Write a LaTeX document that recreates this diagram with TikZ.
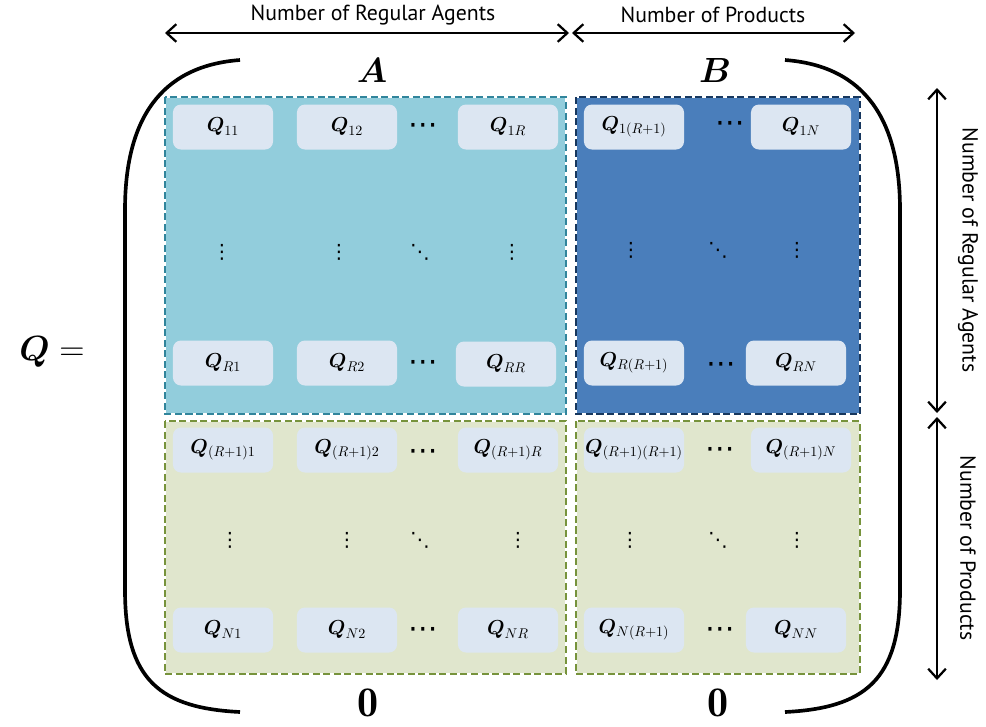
\documentclass[tikz,border=0pt]{standalone}
\usepackage{amsmath, amssymb, bm}
\usepackage{fontspec}
\newfontfamily\labelfont{PT Sans}
\newfontfamily\dotfont{DejaVu Sans}
\usetikzlibrary{positioning, arrows.meta}
\definecolor{AgentFill}{RGB}{146,205,220}
\definecolor{AgentEdge}{RGB}{49,133,156}
\definecolor{ProductFill}{RGB}{74,126,187}
\definecolor{ProductEdge}{RGB}{23,55,94}
\definecolor{ZeroFill}{RGB}{224,230,205}
\definecolor{ZeroEdge}{RGB}{119,147,60}
\definecolor{CellColor}{RGB}{220,230,242}

\begin{document}
\begin{tikzpicture}[x=0.025cm, y=-0.025cm,
    cell/.style={fill=CellColor, rounded corners=2mm, minimum width=2.5cm,
      minimum height=1.125cm, inner sep=0pt, font=\fontsize{14}{16}\selectfont},
    dotnode/.style={inner sep=0pt, font=\dotfont\fontsize{14}{16}\selectfont},
    rowdots/.style={inner sep=0pt, font=\dotfont\fontsize{21}{23}\selectfont},
    edge/.style={dash pattern=on 5pt off 2.5pt, line width=1.8pt},
    span/.style={{Straight Barb[length=2.4mm, width=4.4mm]}-{Straight Barb[length=2.4mm, width=4.4mm]}, line width=1.6pt},
    caption/.style={font=\labelfont\fontsize{15.5}{18}\selectfont},
    paren/.style={line width=2.6pt}]
  \useasboundingbox (0,0) rectangle (986,726);

  % the four blocks
  \fill[AgentFill] (165,97) rectangle (566,414);
  \fill[ProductFill] (576,97) rectangle (860,414);
  \fill[ZeroFill] (165,421) rectangle (566,674);
  \fill[ZeroFill] (576,421) rectangle (860,674);
  \draw[white, line width=1.8pt] (165,97) rectangle (566,414) (576,97) rectangle (860,414)
    (165,421) rectangle (566,674) (576,421) rectangle (860,674);
  \draw[edge, AgentEdge] (165,97) rectangle (566,414);
  \draw[edge, ProductEdge] (576,97) rectangle (860,414);
  \draw[edge, ZeroEdge] (165,421) rectangle (566,674);
  \draw[edge, ZeroEdge] (576,421) rectangle (860,674);

  % block A
  \node[cell] (q11) at (223,127) {$\bm{Q}_{11}$};
  \node[cell] (q12) at (347,127) {$\bm{Q}_{12}$};
  \node[cell] (q1r) at (508,127) {$\bm{Q}_{1R}$};
  \node[rowdots] (a1) at (423,129) {⋯};
  \node[dotnode] (a2) at (222,252) {⋮};
  \node[dotnode] (a3) at (339,252) {⋮};
  \node[dotnode] (a4) at (420,252) {⋱};
  \node[dotnode] (a5) at (512,252) {⋮};
  \node[cell] (qr1) at (223,363) {$\bm{Q}_{R1}$};
  \node[cell] (qr2) at (347,363) {$\bm{Q}_{R2}$};
  \node[cell] (qrr) at (506,364) {$\bm{Q}_{RR}$};
  \node[rowdots] (a6) at (423,366) {⋯};

  % block B
  \node[cell] (q1s) at (634,127) {$\bm{Q}_{1(R+1)}$};
  \node[cell] (q1n) at (801,127) {$\bm{Q}_{1N}$};
  \node[rowdots] (b1) at (730,127) {⋯};
  \node[dotnode] (b2) at (631,250) {⋮};
  \node[dotnode] (b3) at (718,250) {⋱};
  \node[dotnode] (b4) at (797,250) {⋮};
  \node[cell] (qrs) at (634,363) {$\bm{Q}_{R(R+1)}$};
  \node[cell] (qrn) at (796,363) {$\bm{Q}_{RN}$};
  \node[rowdots] (b5) at (721,368) {⋯};

  % lower blocks
  \node[cell] (qs1) at (223,450) {$\bm{Q}_{(R+1)1}$};
  \node[cell] (qs2) at (347,450) {$\bm{Q}_{(R+1)2}$};
  \node[cell] (qsr) at (508,450) {$\bm{Q}_{(R+1)R}$};
  \node[rowdots] (c1) at (423,455) {⋯};
  \node[dotnode] (c2) at (230,540) {⋮};
  \node[dotnode] (c3) at (347,540) {⋮};
  \node[dotnode] (c4) at (420,540) {⋱};
  \node[dotnode] (c5) at (518,540) {⋮};
  \node[cell] (qn1) at (223,630) {$\bm{Q}_{N1}$};
  \node[cell] (qn2) at (347,630) {$\bm{Q}_{N2}$};
  \node[cell] (qnr) at (508,630) {$\bm{Q}_{NR}$};
  \node[rowdots] (c6) at (423,633) {⋯};
  \node[cell] (qss) at (634,450) {$\bm{Q}_{(R+1)(R+1)}$};
  \node[cell] (qsn) at (801,450) {$\bm{Q}_{(R+1)N}$};
  \node[rowdots] (d1) at (720,453) {⋯};
  \node[dotnode] (d2) at (630,540) {⋮};
  \node[dotnode] (d3) at (718,540) {⋱};
  \node[dotnode] (d4) at (797,540) {⋮};
  \node[cell] (qns) at (634,630) {$\bm{Q}_{N(R+1)}$};
  \node[cell] (qnn) at (796,630) {$\bm{Q}_{NN}$};
  \node[rowdots] (d5) at (720,633) {⋯};

  % block names
  \node[font=\fontsize{32}{36}\selectfont] (nameA) at (372,70) {$\bm{A}$};
  \node[font=\fontsize{32}{36}\selectfont] (nameB) at (715,70) {$\bm{B}$};
  \node[font=\fontsize{30}{34}\selectfont] (zeroC) at (368,703) {$\mathbf{0}$};
  \node[font=\fontsize{30}{34}\selectfont] (zeroD) at (718,703) {$\mathbf{0}$};
  \node[font=\fontsize{34}{38}\selectfont] (lhs) at (52,352) {$\bm{Q} =$};

  % big parentheses
  \draw[paren] (240,60) .. controls (160,66) and (125,120) .. (125,210) -- (125,590)
    .. controls (125,680) and (160,708) .. (240,712);
  \draw[paren] (785,60) .. controls (865,66) and (900,120) .. (900,210) -- (900,590)
    .. controls (900,680) and (865,708) .. (785,712);

  % dimension arrows
  \coordinate (t0) at (165,33);
  \coordinate (t1) at (569,33);
  \coordinate (t2) at (572,33);
  \coordinate (t3) at (855,33);
  \coordinate (r0) at (937,88);
  \coordinate (r1) at (937,413);
  \coordinate (r2) at (937,417);
  \coordinate (r3) at (937,680);
  \draw[span] (t0) -- (t1);
  \draw[span] (t2) -- (t3);
  \draw[span] (r0) -- (r1);
  \draw[span] (r2) -- (r3);
  \node[caption] (capA) at (373,15) {Number of Regular Agents};
  \node[caption] (capB) at (713,15) {Number of Products};
  \node[caption, rotate=-90] (capR) at (968,250) {Number of Regular Agents};
  \node[caption, rotate=-90] (capP) at (968,548) {Number of Products};
\end{tikzpicture}
\end{document}
